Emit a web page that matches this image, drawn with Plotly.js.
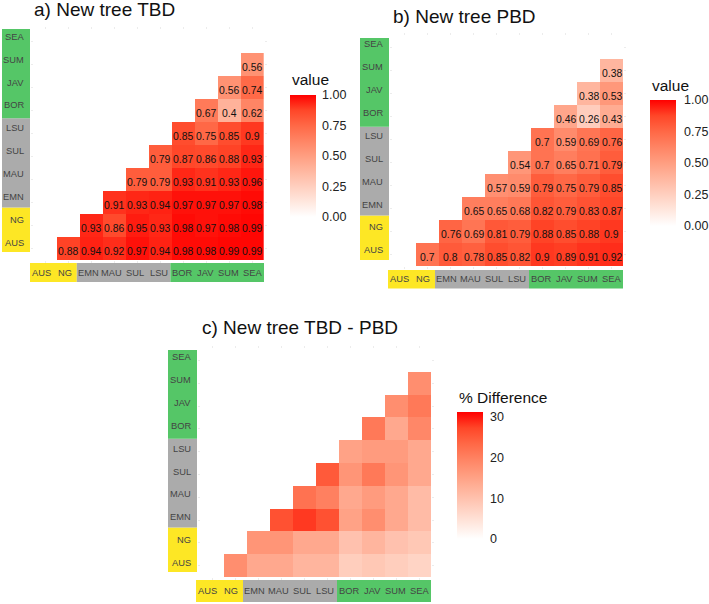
<!DOCTYPE html>
<html>
<head>
<meta charset="utf-8">
<script src="https://cdn.plot.ly/plotly-3.0.1.min.js"></script>
<style>
  html, body { margin: 0; padding: 0; background: #ffffff; }
  #chart { width: 709px; height: 604px; }
</style>
</head>
<body>
<div id="chart"></div>
<script>
// Regions, ordered from the Australian side (AUS) to the Sunda side (SEA)
const regions = ['AUS', 'NG', 'EMN', 'MAU', 'SUL', 'LSU', 'BOR', 'JAV', 'SUM', 'SEA'];
const regionGroup = ['yellow', 'yellow', 'grey', 'grey', 'grey', 'grey', 'green', 'green', 'green', 'green'];

// Pairwise values: row i holds the pairs (regions[i], regions[j]) for every j > i
const tbdRows = [
  [0.88, 0.94, 0.92, 0.97, 0.94, 0.98, 0.98, 0.99, 0.99], // AUS
  [0.93, 0.86, 0.95, 0.93, 0.98, 0.97, 0.98, 0.99],       // NG
  [0.91, 0.93, 0.94, 0.97, 0.97, 0.97, 0.98],             // EMN
  [0.79, 0.79, 0.93, 0.91, 0.93, 0.96],                   // MAU
  [0.79, 0.87, 0.86, 0.88, 0.93],                         // SUL
  [0.85, 0.75, 0.85, 0.9],                                // LSU
  [0.67, 0.4, 0.62],                                      // BOR
  [0.56, 0.74],                                           // JAV
  [0.56]                                                  // SUM
];
const pbdRows = [
  [0.7, 0.8, 0.78, 0.85, 0.82, 0.9, 0.89, 0.91, 0.92],
  [0.76, 0.69, 0.81, 0.79, 0.88, 0.85, 0.88, 0.9],
  [0.65, 0.65, 0.68, 0.82, 0.79, 0.83, 0.87],
  [0.57, 0.59, 0.79, 0.75, 0.79, 0.85],
  [0.54, 0.7, 0.65, 0.71, 0.79],
  [0.7, 0.59, 0.69, 0.76],
  [0.46, 0.26, 0.43],
  [0.38, 0.53],
  [0.38]
];
const diffRows = [
  [18, 14, 14, 12, 12, 8, 9, 8, 7],
  [17, 17, 14, 14, 10, 12, 10, 9],
  [26, 28, 26, 15, 18, 14, 11],
  [22, 20, 14, 16, 14, 11],
  [25, 17, 21, 17, 14],
  [15, 16, 16, 14],
  [21, 14, 19],
  [18, 21],
  [18]
];
const valueTicks = [0, 0.25, 0.5, 0.75, 1];
const valueTickText = ['0.00', '0.25', '0.50', '0.75', '1.00'];
const diffTicks = [0, 10, 20, 30];
const diffTickText = ['0', '10', '20', '30'];

// ---- styling ----
const FONT = 'Liberation Sans, Arial, Helvetica, sans-serif';
const W = 709, H = 604;
const fx = x => x / W;
const fy = y => 1 - y / H;
const groupColor = { yellow: '#FDE725', grey: '#ABABAB', green: '#55C667' };

// white -> red ramp, interpolated in Lab space
const ramp = [
  [0, 'rgb(255,255,255)'], [0.125, 'rgb(255,231,222)'], [0.25, 'rgb(255,207,191)'],
  [0.375, 'rgb(255,183,160)'], [0.5, 'rgb(255,158,129)'], [0.625, 'rgb(255,132,100)'],
  [0.75, 'rgb(255,104,70)'], [0.875, 'rgb(255,70,40)'], [1, 'rgb(255,0,0)']
];

const panels = [
  {
    title: 'a) New tree TBD', titleXY: [32, 10], rows: tbdRows, showValues: true, sfx: '',
    grid: [33.7, 264, 30, 260],
    yTile: { x0: 2, x1: 30, top: 29, bottom: 252, textX: 26, textTop: 36.7, step: 22.9 },
    xTile: { y0: 263, y1: 282, left: 30, right: 264, textY: 272.5 },
    bar: { x: 290, top: 95, len: 122, cmin: 0, cmax: 1, tickvals: valueTicks, ticktext: valueTickText,
           title: 'value', titleY: 79, gap: 4 }
  },
  {
    title: 'b) New tree PBD', titleXY: [391, 17], rows: pbdRows, showValues: true, sfx: '2',
    grid: [393, 623, 36, 266],
    yTile: { x0: 360, x1: 389, top: 38, bottom: 260, textX: 384.5, textTop: 44.3, step: 22.9 },
    xTile: { y0: 270, y1: 288.5, left: 388, right: 623, textY: 279.3 },
    bar: { x: 650, top: 100, len: 126, cmin: 0, cmax: 1, tickvals: valueTicks, ticktext: valueTickText,
           title: 'value', titleY: 85, gap: 6 }
  },
  {
    title: 'c) New tree TBD - PBD', titleXY: [200, 327], rows: diffRows, showValues: false, sfx: '3',
    grid: [201, 431, 349, 577],
    yTile: { x0: 168, x1: 197, top: 350, bottom: 572, textX: 193.3, textTop: 356.7, step: 22.96 },
    xTile: { y0: 580, y1: 602, left: 196, right: 431, textY: 591 },
    bar: { x: 457, top: 412, len: 126.5, cmin: 0, cmax: 31.2, tickvals: diffTicks, ticktext: diffTickText,
           title: '% Difference', titleY: 397, gap: 5 }
  }
];

// full square matrix (y index = row region, x index = column region), upper triangle only
function toMatrix(rows) {
  return regions.map((_, i) => regions.map((_, j) => (j > i ? rows[i][j - i - 1] : null)));
}

// contiguous runs of equal group colour
function groupRuns() {
  const runs = [];
  regionGroup.forEach((g, i) => {
    if (runs.length && runs[runs.length - 1].g === g) runs[runs.length - 1].end = i;
    else runs.push({ g: g, start: i, end: i });
  });
  return runs;
}

const data = [];
const shapes = [];
const annotations = [];
const layout = {
  width: W, height: H,
  margin: { l: 0, r: 0, t: 0, b: 0 },
  paper_bgcolor: '#ffffff', plot_bgcolor: 'rgba(0,0,0,0)',
  font: { family: FONT, color: '#1a1a1a' },
  showlegend: false
};

panels.forEach(p => {
  const xa = 'x' + p.sfx, ya = 'y' + p.sfx;
  const [gx0, gx1, gy0, gy1] = p.grid;
  const axisBase = {
    type: 'category', categoryorder: 'array', categoryarray: regions,
    range: [-0.5, regions.length - 0.5], showgrid: false, zeroline: false,
    showticklabels: false, ticks: 'outside', ticklen: 2, tickwidth: 1,
    tickcolor: '#ececec', mirror: 'ticks', fixedrange: true
  };
  layout['xaxis' + p.sfx] = Object.assign({}, axisBase, { domain: [fx(gx0), fx(gx1)], anchor: ya });
  layout['yaxis' + p.sfx] = Object.assign({}, axisBase, { domain: [fy(gy1), fy(gy0)], anchor: xa });

  const z = toMatrix(p.rows);
  data.push({
    type: 'heatmap', x: regions, y: regions, z: z,
    xaxis: xa, yaxis: ya,
    colorscale: ramp, zmin: p.bar.cmin, zmax: p.bar.cmax, zauto: false,
    xgap: 0, ygap: 0, hoverinfo: 'skip',
    colorbar: {
      x: fx(p.bar.x), xanchor: 'left', xref: 'paper',
      y: fy(p.bar.top), yanchor: 'top', yref: 'paper',
      len: p.bar.len, lenmode: 'pixels', thickness: 26, thicknessmode: 'pixels',
      xpad: 0, ypad: 0, outlinewidth: 0, borderwidth: 0,
      tickmode: 'array', tickvals: p.bar.tickvals, ticktext: p.bar.ticktext,
      ticks: 'outside', ticklen: p.bar.gap, tickwidth: 1, tickcolor: '#ffffff',
      tickfont: { size: 12.5, color: '#222222', family: FONT }
    }
  });

  // value labels inside the cells
  if (p.showValues) {
    z.forEach((row, i) => row.forEach((v, j) => {
      if (v === null) return;
      annotations.push({
        x: regions[j], y: regions[i], xref: xa, yref: ya,
        text: String(v), showarrow: false, yshift: -3,
        font: { size: 10.4, color: '#111111', family: FONT }
      });
    }));
  }

  // coloured region strips along both axes
  const runs = groupRuns();
  const yt = p.yTile, xt = p.xTile;
  const yStep = (yt.bottom - yt.top) / regions.length;
  const xStep = (xt.right - xt.left) / regions.length;
  runs.forEach(r => {
    // y strip: SEA on top, AUS at the bottom
    const top = yt.top + (regions.length - 1 - r.end) * yStep;
    const bottom = yt.top + (regions.length - r.start) * yStep;
    shapes.push({ type: 'rect', xref: 'paper', yref: 'paper', layer: 'below',
      x0: fx(yt.x0), x1: fx(yt.x1), y0: fy(bottom), y1: fy(top),
      fillcolor: groupColor[r.g], line: { width: 0 } });
    shapes.push({ type: 'rect', xref: 'paper', yref: 'paper', layer: 'below',
      x0: fx(xt.left + r.start * xStep), x1: fx(xt.left + (r.end + 1) * xStep),
      y0: fy(xt.y1), y1: fy(xt.y0),
      fillcolor: groupColor[r.g], line: { width: 0 } });
  });
  regions.forEach((name, i) => {
    annotations.push({
      x: fx(yt.textX), y: fy(yt.textTop + (regions.length - 1 - i) * yt.step),
      xref: 'paper', yref: 'paper', xanchor: 'right', yanchor: 'middle',
      text: name, showarrow: false, font: { size: 9.3, color: '#444444', family: FONT }
    });
    annotations.push({
      x: fx(xt.left + (i + 0.5) * xStep), y: fy(xt.textY),
      xref: 'paper', yref: 'paper', xanchor: 'center', yanchor: 'middle',
      text: name, showarrow: false, font: { size: 9.3, color: '#444444', family: FONT }
    });
  });

  // panel title and colour bar title
  annotations.push({
    x: fx(p.titleXY[0]), y: fy(p.titleXY[1]), xref: 'paper', yref: 'paper',
    xanchor: 'left', yanchor: 'middle', text: p.title, showarrow: false,
    font: { size: 19, color: '#111111', family: FONT }
  });
  annotations.push({
    x: fx(p.bar.x), y: fy(p.bar.titleY), xref: 'paper', yref: 'paper',
    xanchor: 'left', yanchor: 'middle', text: p.bar.title, showarrow: false,
    font: { size: 15.5, color: '#111111', family: FONT }
  });
});

layout.shapes = shapes;
layout.annotations = annotations;

Plotly.newPlot('chart', data, layout, { staticPlot: true, displayModeBar: false });
</script>
</body>
</html>
